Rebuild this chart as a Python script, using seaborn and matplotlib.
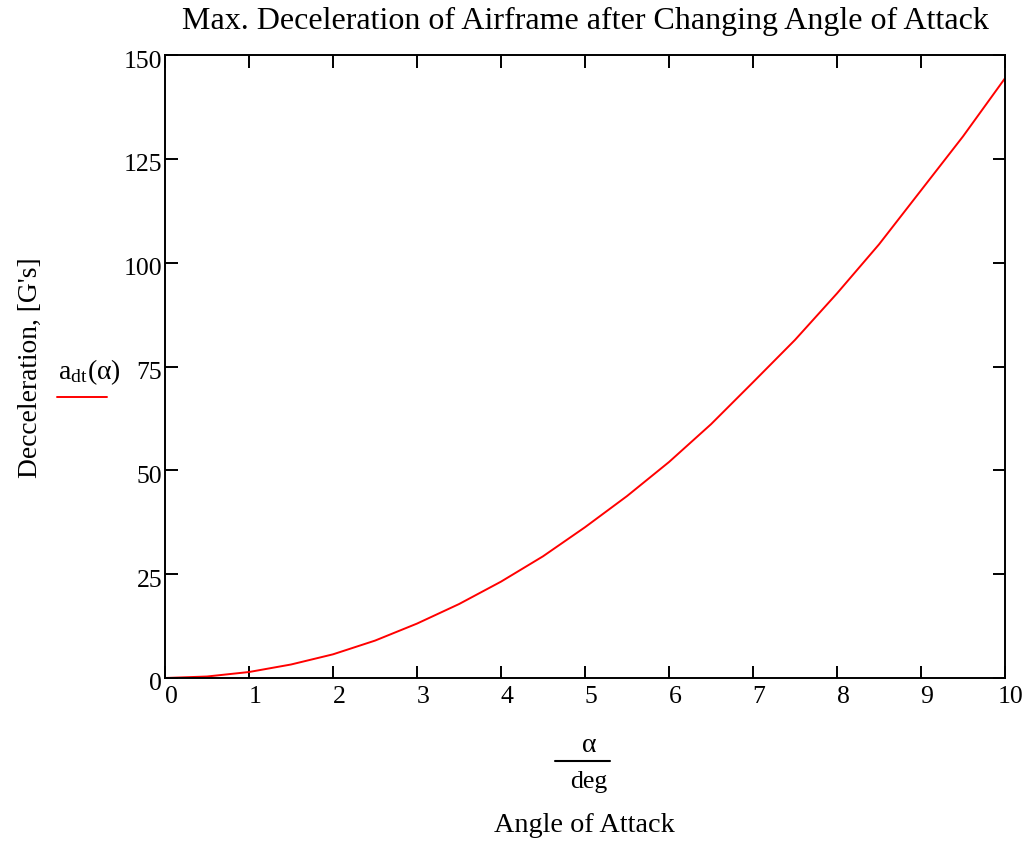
import numpy as np
import pandas as pd
import matplotlib
matplotlib.use("Agg")
import matplotlib.pyplot as plt
import matplotlib.transforms as mtransforms
from matplotlib.lines import Line2D
import seaborn as sns

# Angle of attack [deg] and maximum deceleration [G's]
alpha_deg = [0.0, 0.5, 1.0, 1.5, 2.0, 2.5, 3.0, 3.5, 4.0, 4.5, 5.0,
             5.5, 6.0, 6.5, 7.0, 7.5, 8.0, 8.5, 9.0, 9.5, 10.0]
decel_g = [0.0, 0.36, 1.44, 3.25, 5.7, 9.0, 13.1, 17.8, 23.2, 29.3, 36.3,
           43.8, 52.0, 61.1, 71.2, 81.4, 92.6, 104.4, 117.4, 130.4, 144.4]

x_ticks = [0, 1, 2, 3, 4, 5, 6, 7, 8, 9, 10]
y_ticks = [0, 25, 50, 75, 100, 125, 150]

sns.set_theme(style="white")
plt.rcParams["font.family"] = ["Liberation Serif", "DejaVu Serif"]
plt.rcParams["mathtext.fontset"] = "stix"
plt.rcParams["text.color"] = "black"
plt.rcParams["axes.labelcolor"] = "black"

df = pd.DataFrame({"alpha": alpha_deg, "a_dt": decel_g})

fig = plt.figure(figsize=(10.29, 8.48), dpi=100)
ax = fig.add_axes([165 / 1029, 1 - 678 / 848, 840 / 1029, 623 / 848])

sns.lineplot(data=df, x="alpha", y="a_dt", color="#ff0000", linewidth=1.4, ax=ax)

ax.set_xlim(0, 10)
ax.set_ylim(0, 150)
ax.set_xticks(x_ticks)
ax.set_yticks(y_ticks)
ax.set_xticklabels([str(v) for v in x_ticks])
ax.set_yticklabels([str(v) for v in y_ticks])
ax.set_xlabel("")
ax.set_ylabel("")

for s in ax.spines.values():
    s.set_visible(True)
    s.set_color("black")
    s.set_linewidth(1.4)

ax.tick_params(axis="both", which="major", direction="in", length=9,
               width=1.4, colors="black", labelcolor="black", labelsize=18.5,
               top=True, right=True, bottom=True, left=True,
               labeltop=False, labelright=False)
ax.tick_params(axis="x", pad=6)
ax.tick_params(axis="y", pad=2)

# Shift tick labels slightly off their ticks
dx = mtransforms.ScaledTranslation(6 / 100, 0, fig.dpi_scale_trans)
for lab in ax.get_xticklabels():
    lab.set_transform(lab.get_transform() + dx)
dy = mtransforms.ScaledTranslation(0, -4 / 100, fig.dpi_scale_trans)
for lab in ax.get_yticklabels():
    lab.set_transform(lab.get_transform() + dy)

fig.text(585 / 1029, 1 - 21 / 848, "Max. Deceleration of Airframe after Changing Angle of Attack",
         ha="center", va="center", fontsize=23)

fig.text(30 / 1029, 1 - 368 / 848, "Decceleration, [G's]", rotation=90,
         ha="center", va="center", fontsize=19.8)

# Trace label with its line sample
fig.text(89 / 1029, 1 - 372 / 848, r"$\mathregular{a}_{\mathregular{dt}}\mathregular{(\alpha)}$",
         ha="center", va="center", fontsize=20)
fig.add_artist(Line2D([57 / 1029, 107 / 1029], [1 - 397 / 848, 1 - 397 / 848],
                      transform=fig.transFigure, color="#ff0000", linewidth=1.4))

# x-axis expression: alpha / deg
fig.text(589 / 1029, 1 - 745 / 848, "\u03b1", ha="center", va="center", fontsize=20)
fig.add_artist(Line2D([555 / 1029, 610 / 1029], [1 - 761 / 848, 1 - 761 / 848],
                      transform=fig.transFigure, color="black", linewidth=1.5))
fig.text(589 / 1029, 1 - 782 / 848, "deg", ha="center", va="center", fontsize=18.5)
fig.text(584 / 1029, 1 - 826 / 848, "Angle of Attack", ha="center", va="center", fontsize=20.3)

fig.savefig("out.png", dpi=100)
